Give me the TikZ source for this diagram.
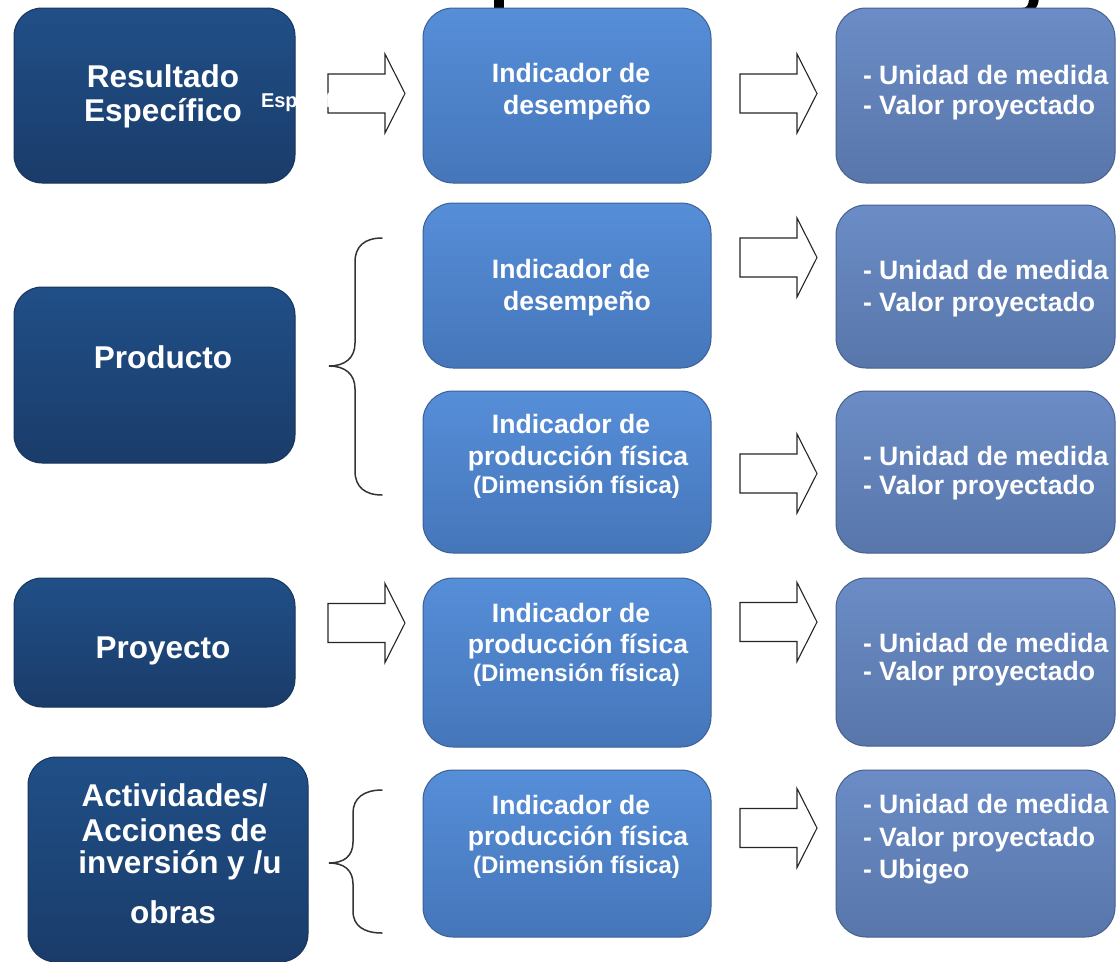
\documentclass[tikz,border=0pt]{standalone}
\usepackage{fontspec}
\setmainfont{Liberation Sans}
\definecolor{lctop}{RGB}{32,79,135}
\definecolor{lcbot}{RGB}{26,60,106}
\definecolor{lcb}{RGB}{24,52,92}
\definecolor{mctop}{RGB}{86,142,216}
\definecolor{mcbot}{RGB}{69,118,186}
\definecolor{mcb}{RGB}{60,96,150}
\definecolor{rctop}{RGB}{107,140,198}
\definecolor{rcbot}{RGB}{88,118,170}
\definecolor{rcb}{RGB}{72,96,140}
\tikzset{
  boxbase/.style={rectangle, rounded corners=30pt, inner sep=0pt, outer sep=0pt, line width=1pt},
  leftbox/.style={boxbase, top color=lctop, bottom color=lcbot, draw=lcb, minimum width=281, rounded corners=28pt},
  midbox/.style={boxbase, top color=mctop, bottom color=mcbot, draw=mcb, minimum width=288},
  rightbox/.style={boxbase, top color=rctop, bottom color=rcbot, draw=rcb, minimum width=279},
  txtbase/.style={text=white, inner sep=0pt, outer sep=0pt, font=\bfseries},
  lefttxt/.style={txtbase, anchor=base, font=\fontsize{31.5}{36}\selectfont\bfseries},
  midtxt/.style={txtbase, anchor=base, font=\fontsize{26.6}{30}\selectfont\bfseries},
  midsmall/.style={txtbase, anchor=base, font=\fontsize{24}{28}\selectfont\bfseries},
  righttxt/.style={txtbase, anchor=base west, font=\fontsize{26.6}{30}\selectfont\bfseries},
  blockarr/.style={draw=black!85, fill=white, line width=1.1pt, line join=miter},
  bracestyle/.style={draw=black!80, line width=1.5pt, line cap=round},
}
\newcommand\blockarrow[1]{%
  \draw[blockarr] (#1) ++(0,-19.5) -- ++(57,0) -- ++(0,-20) -- ++(20,39.5)
    -- ++(-20,39.5) -- ++(0,-20) -- ++(-57,0) -- cycle;}
\begin{document}
\begin{tikzpicture}[x=1pt,y=-1pt]
\useasboundingbox (0,0) rectangle (1116,961);
\clip (0,0) rectangle (1116,961);
\fill[white] (0,0) rectangle (1116,961);

% title fragments (cut off at the top)
\fill[black] (494,-2) rectangle (504,12);
\fill[black] (1030,-2) -- (1039,-2) .. controls (1038,9) and (1033,13) .. (1022,13)
  -- (1022,8) .. controls (1027,8) and (1029,5) .. (1029,-2) -- cycle;

% left column
\node[leftbox, minimum height=175] (b1) at (154.5,95.5) {};
\node[leftbox, minimum height=176] (b2) at (154.5,375) {};
\node[leftbox, minimum height=129] (b3) at (154.5,642.5) {};
\node[leftbox, minimum width=280, minimum height=205] (b4) at (168,859.5) {};

% middle column
\node[midbox, minimum height=175] (m1) at (567,95.5) {};
\node[midbox, minimum height=165] (m2) at (567,285.5) {};
\node[midbox, minimum height=162] (m3) at (567,472) {};
\node[midbox, minimum height=169] (m4) at (567,662.5) {};
\node[midbox, minimum height=167] (m5) at (567,853.5) {};

% right column
\node[rightbox, minimum height=175] (r1) at (975.5,95.5) {};
\node[rightbox, minimum height=163] (r2) at (975.5,286.5) {};
\node[rightbox, minimum height=162] (r3) at (975.5,472) {};
\node[rightbox, minimum height=168] (r4) at (975.5,662) {};
\node[rightbox, minimum height=167] (r5) at (975.5,853.5) {};

% block arrows
\coordinate (a1) at (328,93.5);
\coordinate (a2) at (740,93.5);
\coordinate (a3) at (740,257.5);
\coordinate (a4) at (740,473.5);
\coordinate (a5) at (328,623);
\coordinate (a6) at (740,622);
\coordinate (a7) at (740,828);
\blockarrow{a1}\blockarrow{a2}\blockarrow{a3}\blockarrow{a4}
\blockarrow{a5}\blockarrow{a6}\blockarrow{a7}

% braces
\draw[bracestyle] (382,238) .. controls (365,238) and (355,246) .. (355,262)
  -- (355,343) .. controls (355,358) and (345,366) .. (329,366)
  .. controls (345,366) and (355,374) .. (355,389)
  -- (355,471) .. controls (355,487) and (365,495) .. (382,495);
\draw[bracestyle] (382,790) .. controls (364,790) and (353,798) .. (353,813)
  -- (353,842) .. controls (353,856) and (344,863) .. (329,863)
  .. controls (344,863) and (353,870) .. (353,884)
  -- (353,911) .. controls (353,926) and (364,933) .. (382,933);

% left texts
\node[lefttxt] (t1a) at (163,87) {Resultado};
\node[lefttxt] (t1b) at (163,121) {Específico};
\node[lefttxt] (t2) at (163,368) {Producto};
\node[lefttxt] (t3) at (163,658) {Proyecto};
\node[lefttxt] (t4a) at (174.5,806) {Actividades/};
\node[lefttxt] (t4b) at (174.5,841) {Acciones de};
\node[lefttxt] (t4c) at (180,873) {inversión y /u};
\node[lefttxt] (t4d) at (173,923) {obras};

% stray small white label
\node[txtbase, anchor=base west, font=\fontsize{20}{24}\selectfont\bfseries] (esp) at (261,107) {Específico};

% middle texts
\node[midtxt] (m1a) at (571,82) {Indicador de};
\node[midtxt] (m1b) at (577,114) {desempeño};
\node[midtxt] (m2a) at (571,278) {Indicador de};
\node[midtxt] (m2b) at (577,310) {desempeño};
\node[midtxt] (m3a) at (571,433) {Indicador de};
\node[midtxt] (m3b) at (578,465) {producción física};
\node[midsmall] (m3c) at (576.5,493) {(Dimensión física)};
\node[midtxt] (m4a) at (571,622) {Indicador de};
\node[midtxt] (m4b) at (578,653) {producción física};
\node[midsmall] (m4c) at (576.5,681) {(Dimensión física)};
\node[midtxt] (m5a) at (571,814) {Indicador de};
\node[midtxt] (m5b) at (578,845) {producción física};
\node[midsmall] (m5c) at (576.5,873) {(Dimensión física)};

% right texts
\node[righttxt] (r1a) at (863,84) {- Unidad de medida};
\node[righttxt] (r1b) at (863,114) {- Valor proyectado};
\node[righttxt] (r2a) at (863,279) {- Unidad de medida};
\node[righttxt] (r2b) at (863,311) {- Valor proyectado};
\node[righttxt] (r3a) at (863,465) {- Unidad de medida};
\node[righttxt] (r3b) at (863,494) {- Valor proyectado};
\node[righttxt] (r4a) at (863,652) {- Unidad de medida};
\node[righttxt] (r4b) at (863,680) {- Valor proyectado};
\node[righttxt] (r5a) at (863,813) {- Unidad de medida};
\node[righttxt] (r5b) at (863,846) {- Valor proyectado};
\node[righttxt] (r5c) at (863,878) {- Ubigeo};
\end{tikzpicture}
\end{document}
